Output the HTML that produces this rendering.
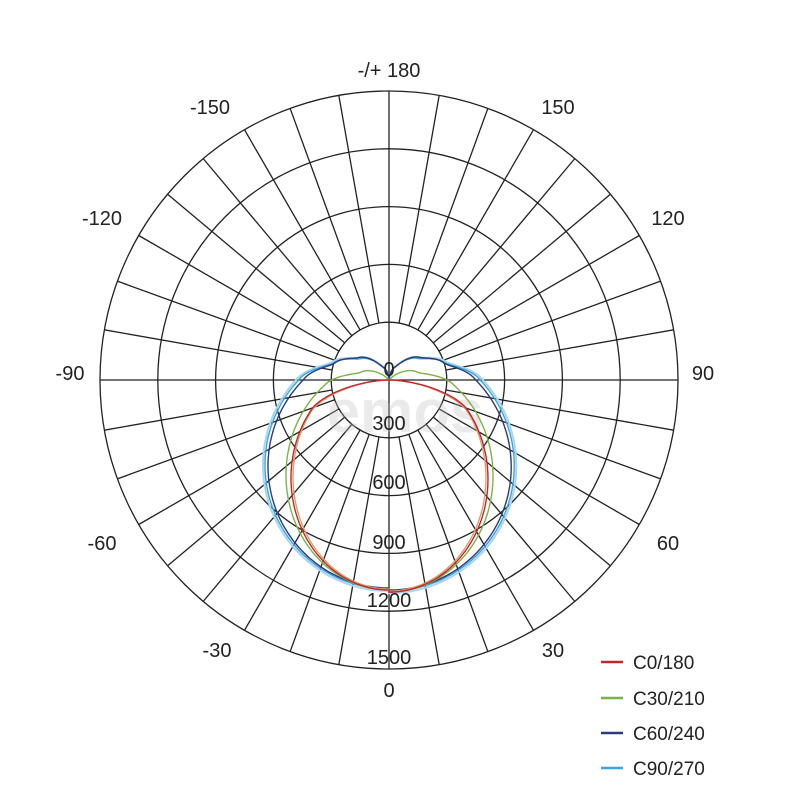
<!DOCTYPE html>
<html><head><meta charset="utf-8"><style>
html,body{margin:0;padding:0;background:#fff;}
svg{display:block;font-family:"Liberation Sans","DejaVu Sans",sans-serif;}
</style></head><body>
<svg id="s" width="800" height="800" viewBox="0 0 800 800" xmlns="http://www.w3.org/2000/svg">
<g id="grid" stroke="#222" stroke-width="1.3" fill="none"></g>
<text x="405" y="432" font-size="60" font-weight="bold" fill="#bbb" opacity="0.3" text-anchor="middle">emos</text>
<g id="curves" fill="none" stroke-width="1.4"></g>
<g font-size="20" fill="#222" text-anchor="middle">
<text x="389" y="77">-/+ 180</text>
<text x="210" y="114">-150</text><text x="558" y="114">150</text>
<text x="102" y="225">-120</text><text x="668" y="225">120</text>
<text x="70" y="380">-90</text><text x="703" y="380">90</text>
<text x="102" y="550">-60</text><text x="668" y="550">60</text>
<text x="217" y="657">-30</text><text x="553" y="657">30</text>
<text x="389" y="697">0</text>
<text x="389" y="376">0</text>
<text x="389" y="430">300</text>
<text x="389" y="489">600</text>
<text x="389" y="549">900</text>
<text x="389" y="607">1200</text>
<text x="389" y="664">1500</text>
</g>
<g stroke-width="2.5">
<line x1="601" y1="662" x2="623" y2="662" stroke="#c0282d"/>
<line x1="601" y1="698" x2="623" y2="698" stroke="#7db346"/>
<line x1="601" y1="733" x2="623" y2="733" stroke="#2b3a78"/>
<line x1="601" y1="768" x2="623" y2="768" stroke="#3aa4dc"/>
</g>
<g font-size="19" fill="#222">
<text x="633" y="669">C0/180</text>
<text x="633" y="705">C30/210</text>
<text x="633" y="740">C60/240</text>
<text x="633" y="775">C90/270</text>
</g>
</svg>
<script>
var cx=389,cy=380,u=57.8,NS="http://www.w3.org/2000/svg";
var g=document.getElementById('grid');
function el(p,t,a){var e=document.createElementNS(NS,t);for(var k in a)e.setAttribute(k,a[k]);p.appendChild(e);return e;}
for(var k=1;k<=5;k++)el(g,'circle',{cx:cx,cy:cy,r:u*k});
for(var d=0;d<360;d+=10){var a=d*Math.PI/180;var r0=(d%90==0)?0:u;
el(g,'line',{x1:cx+r0*Math.sin(a),y1:cy+r0*Math.cos(a),x2:cx+5*u*Math.sin(a),y2:cy+5*u*Math.cos(a)});}
var c=document.getElementById('curves');
function ell(t,rx,ry,d){var a=t*Math.PI/180,s=Math.sin(a),co=Math.cos(a);
var A=s*s/(rx*rx)+co*co/(ry*ry),B=d*co/(ry*ry),C=d*d/(ry*ry)-1;var D=B*B-A*C;if(D<0)return 0;return (B+Math.sqrt(D))/A;}
function lin(tab,t){for(var i=0;i<tab.length-1;i++){if(t<=tab[i+1][0]){var f=(t-tab[i][0])/(tab[i+1][0]-tab[i][0]);
var s=(1-Math.cos(f*Math.PI))/2;return tab[i][1]+(tab[i+1][1]-tab[i][1])*(0.6*f+0.4*s);}}return 0;}
function curve(col,rx,ry,d,tj,tail,w){
var tmax=tail[tail.length-1][0],pts=[];var tab=[[tj,ell(tj,rx,ry,d)]].concat(tail);
for(var s=-1;s<=1;s+=2){var arr=[];
for(var t=0;t<=tmax;t+=1){var a=t*Math.PI/180;var r=(t<=tj?ell(t,rx,ry,d):lin(tab,t))*(s>0?1.01:1);
arr.push([cx+s*r*Math.sin(a),cy+r*Math.cos(a)]);}
if(s<0)arr.reverse();pts=pts.concat(arr);}
el(c,'polyline',{points:pts.map(function(q){return q[0].toFixed(1)+','+q[1].toFixed(1)}).join(' '),stroke:col,'stroke-width':w||1.4});}
curve('#a9d6ee',126,126,85,90,[[107,60],[126,38],[155,15],[180,0]],2);
curve('#3aa4dc',124,124,85,90,[[107,58],[126,36],[155,14],[180,0]]);
curve('#2b3a78',121,122,86,90,[[107,57],[126,38],[155,14],[180,0]]);
curve('#7db346',103,115,95,85,[[104,30],[140,0]]);
curve('#d9a070',96,112,97,68,[[90,0]]);
curve('#c0282d',98,112,98,70,[[90,0]]);
</script>
</body></html>
